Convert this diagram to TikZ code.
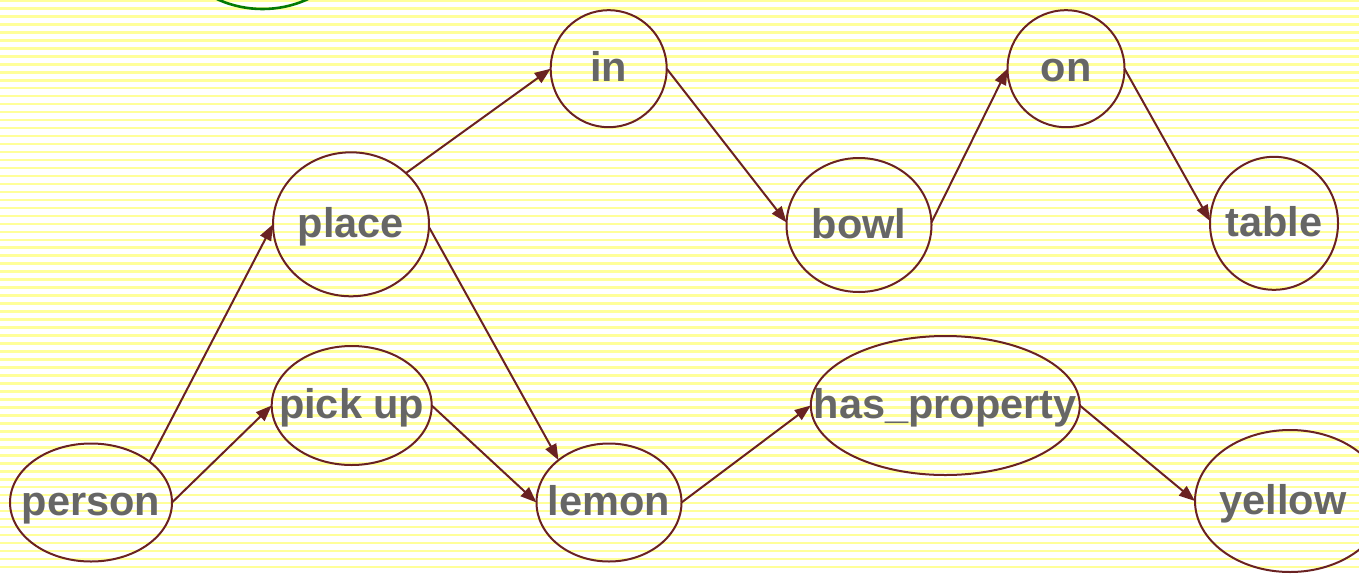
\documentclass[tikz,border=0pt]{standalone}
\usepackage{fontspec}
\setmainfont{Liberation Sans}
\usetikzlibrary{arrows.meta,shapes.geometric}
\definecolor{stripe}{HTML}{FFFF99}
\definecolor{edgecol}{HTML}{6A2222}
\definecolor{textcol}{HTML}{666666}
\definecolor{ringgreen}{HTML}{037A03}
\tikzset{
  ell/.style={ellipse, draw=edgecol, line width=2pt, inner sep=0pt, outer sep=0pt},
  lbl/.style={text=textcol, inner sep=0pt, text height=26pt, text depth=0pt,
              font=\fontsize{41.5}{41.5}\selectfont\bfseries},
  edge/.style={draw=edgecol, line width=2pt, -{Triangle[length=16pt,width=12pt]}},
}
\begin{document}
\begin{tikzpicture}[x=1pt,y=-1pt]
  \useasboundingbox (0,0) rectangle (1359,573);
  \begin{scope}
    \clip (0,0) rectangle (1359,573);
    % lined paper background
    \fill[white] (0,0) rectangle (1359,573);
    \foreach \k in {0,...,71}
      \draw[stripe, line width=2.6pt] (0,{0.4+7.98*\k}) -- (1359,{0.4+7.98*\k});
    % partly visible green ring at the top edge
    \draw[ringgreen, line width=2.6pt] (262.5,-100) circle[radius=109];
  \end{scope}

  % concept nodes
  \node[ell, minimum width=162pt, minimum height=118pt, label={[lbl]center:person}] (person) at (91,502.5) {};
  \node[ell, minimum width=160pt, minimum height=119pt, label={[lbl]center:pick up}] (pickup) at (351.7,405.5) {};
  \node[ell, minimum width=156pt, minimum height=144pt, label={[lbl]center:place}] (place) at (351,224.3) {};
  \node[ell, minimum width=116pt, minimum height=117pt, label={[lbl]center:in}] (in) at (608.7,68.7) {};
  \node[ell, minimum width=145pt, minimum height=118pt, label={[lbl]center:lemon}] (lemon) at (609,502.5) {};
  \node[ell, minimum width=145pt, minimum height=134pt, label={[lbl]center:bowl}] (bowl) at (859,225) {};
  \node[ell, minimum width=117pt, minimum height=117pt, label={[lbl]center:on}] (on) at (1066,68.7) {};
  \node[ell, minimum width=128pt, minimum height=133pt, label={[lbl]center:table}] (table) at (1274,223.3) {};
  \node[ell, minimum width=269pt, minimum height=139pt, label={[lbl]center:has\_property}] (hasprop) at (945.3,405.5) {};
  \node[ell, minimum width=190pt, minimum height=142pt, label={[lbl,xshift=-7pt]center:yellow}] (yellow) at (1290,501) {};

  % relations
  \draw[edge] (person.35) -- (place.180);
  \draw[edge] (person.0) -- (pickup.180);
  \draw[edge] (place.43) -- (in.180);
  \draw[edge] (place.-2) -- (lemon.140);
  \draw[edge] (pickup.0) -- (lemon.180);
  \draw[edge] (in.0) -- (bowl.178);
  \draw[edge] (bowl.2) -- (on.180);
  \draw[edge] (on.0) -- (table.178);
  \draw[edge] (lemon.0) -- (hasprop.180);
  \draw[edge] (hasprop.0) -- (yellow.180);
\end{tikzpicture}
\end{document}
